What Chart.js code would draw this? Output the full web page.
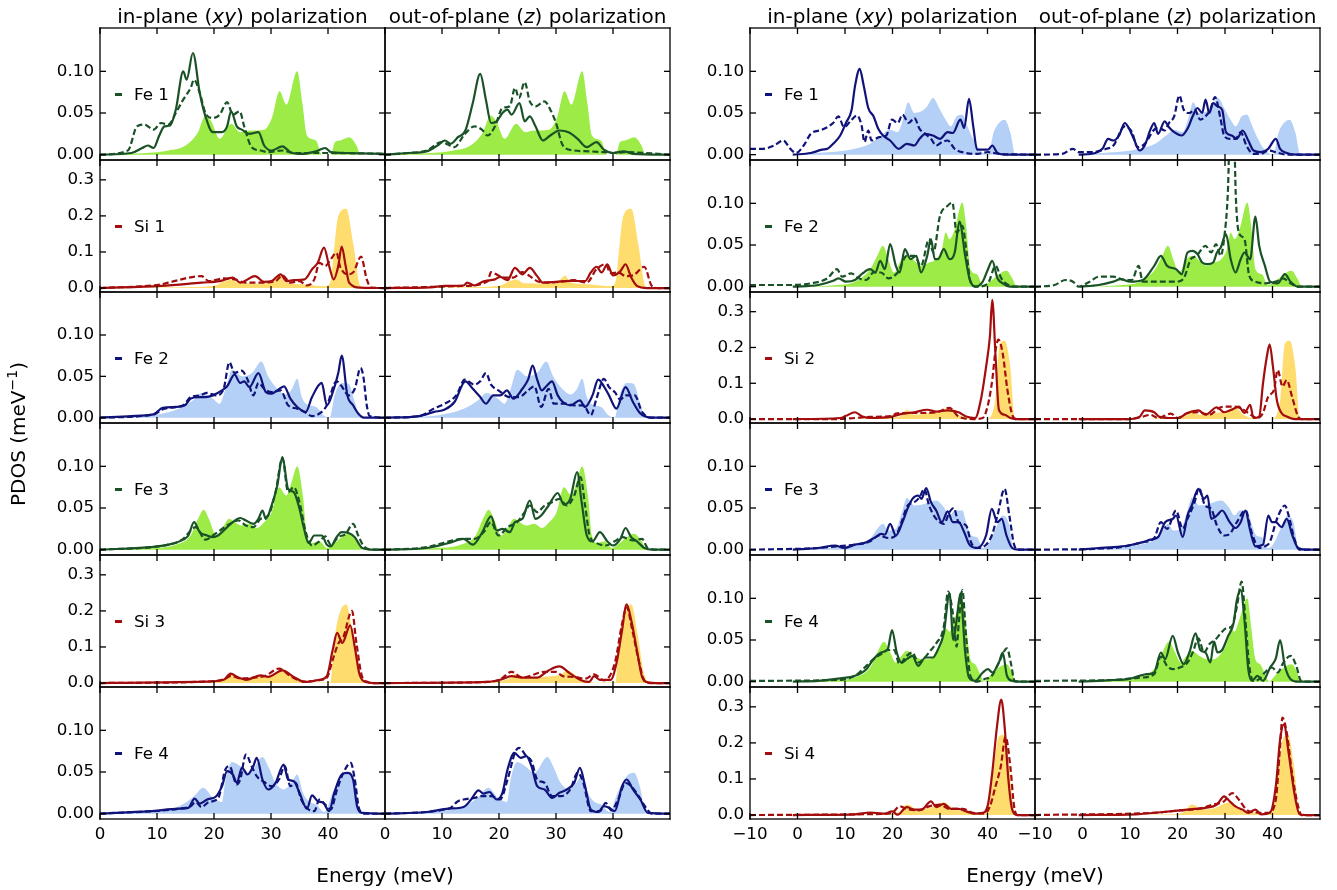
<!DOCTYPE html>
<html>
<head>
<meta charset="utf-8">
<script src="https://cdn.jsdelivr.net/npm/chart.js@4.4.0/dist/chart.umd.min.js"></script>
<style>
  body { margin: 0; background: #fff; }
  #figure { position: relative; width: 1337px; height: 890px; overflow: hidden; font-family: "DejaVu Sans", sans-serif; color: #000; }
  #figure canvas { position: absolute; }
  .txt { position: absolute; white-space: nowrap; }
  .title { font-size: 20px; line-height: 24px; text-align: center; }
  .legend { font-size: 16.7px; line-height: 20px; }
  .dash { position: absolute; width: 7px; height: 3px; }
</style>
</head>
<body>
<div id="figure"></div>
<script>
// --- Axis ticks and ranges ---
const energyTicksLeft = [0, 10, 20, 30, 40];
const energyTicksRight = [-10, 0, 10, 20, 30, 40];
const feTicks = [0, 0.05, 0.10];
const siTicks = [0, 0.1, 0.2, 0.3];
const rowLabels = ['Fe 1', 'Si 1', 'Fe 2', 'Fe 3', 'Si 3', 'Fe 4'];
const rowLabelsRight = ['Fe 1', 'Fe 2', 'Si 2', 'Fe 3', 'Fe 4', 'Si 4'];
const columnTitles = ['in-plane (<i>xy</i>) polarization', 'out-of-plane (<i>z</i>) polarization'];

// --- Left block: [energy (meV), PDOS (1/meV)] ---
const leftFe1Fill = [[0,0],[5,0.001],[10,0.003],[12,0.005],[15,0.011],[17.2,0.027],[18.5,0.047],[19.5,0.04],[21,0.019],[23,0.037],[24.6,0.027],[26.2,0.029],[28.8,0.03],[30.2,0.045],[31.5,0.076],[32.7,0.06],[34.6,0.1],[35.5,0.062],[36.3,0.023],[37.9,0.017],[38.9,0],[40.5,0],[41.2,0.015],[42.1,0.017],[43.7,0.021],[45,0.011],[45.7,0],[50,0]];
const leftFe1XySolid = [[0,0],[5.5,0.002],[7.4,0.008],[8.4,0.011],[9.4,0.008],[10.4,0.023],[11.3,0.034],[12.3,0.035],[13.3,0.054],[14.6,0.1],[15.2,0.09],[16.3,0.122],[17.5,0.074],[18.5,0.046],[19.8,0.027],[21.4,0.027],[22.3,0.034],[23,0.052],[24,0.034],[24.9,0.03],[26.2,0.025],[27.8,0.027],[28.8,0.011],[30.1,0.005],[32,0.01],[33.4,0.003],[35.3,0.001],[37.9,0.004],[39.5,0.008],[40.5,0.003],[43,0.002],[50,0.001]];
const leftFe1XyDashed = [[0,0],[4.9,0.005],[6.5,0.034],[7.8,0.036],[9.4,0.03],[10.7,0.038],[12,0.036],[13.3,0.05],[14.6,0.066],[15.9,0.08],[16.5,0.09],[17.5,0.074],[18.5,0.05],[19.8,0.044],[21,0.048],[22.3,0.063],[23.3,0.048],[24.5,0.052],[25.3,0.034],[26.6,0.009],[28.2,0.005],[29.5,0.003],[32,0.005],[34,0.002],[40,0.002],[50,0.001]];
const leftFe1ZSolid = [[0,0],[4.1,0.002],[7.3,0.004],[9.2,0.011],[10.5,0.017],[11.5,0.013],[12.8,0.021],[14.1,0.029],[15.4,0.062],[16.7,0.097],[17.7,0.066],[18.6,0.038],[19.6,0.04],[20.6,0.05],[21.5,0.054],[22.2,0.048],[23.6,0.062],[24.5,0.04],[25.4,0.046],[26.4,0.034],[27.7,0.017],[29,0.023],[30.6,0.029],[32.2,0.027],[33.8,0.019],[35.4,0.009],[37.1,0.015],[38.4,0.006],[40,0.002],[41.9,0.004],[43.5,0.001],[50,0]];
const leftFe1ZDashed = [[0,0],[4.1,0.002],[7.3,0.005],[9.9,0.015],[12.2,0.009],[13.8,0.023],[15.7,0.034],[17,0.03],[18,0.023],[19.3,0.034],[20.6,0.056],[21.9,0.058],[22.8,0.08],[23.5,0.068],[24.5,0.087],[25.4,0.064],[26.4,0.058],[28,0.064],[29,0.054],[30,0.038],[31.2,0.011],[33.2,0.005],[35.8,0.004],[38.4,0.003],[40.3,0.002],[42,0.003],[50,0]];

const leftSi1Fill = [[0,0],[15,0.002],[20,0.006],[22,0.02],[23,0.024],[24.5,0.013],[28,0.012],[30.5,0.02],[31.6,0.035],[32.5,0.016],[36,0.01],[39.5,0.005],[40.5,0.02],[40.9,0.08],[41.8,0.2],[43.2,0.22],[44.4,0.126],[45.7,0.005],[46.5,0],[50,0]];
const leftSi1XySolid = [[0,0],[10.7,0.006],[17.8,0.015],[21,0.019],[23.3,0.029],[24.6,0.015],[27.2,0.033],[28.8,0.017],[30.1,0.019],[31.7,0.038],[32.7,0.019],[34,0.022],[35.9,0.024],[37.2,0.052],[38.2,0.07],[39.3,0.112],[40.2,0.061],[41,0.024],[41.8,0.061],[42.4,0.115],[43.1,0.061],[43.7,0.015],[45.7,0.001],[50,0]];
const leftSi1XyDashed = [[0,0],[10.7,0.01],[12,0.015],[17.8,0.033],[19.1,0.019],[21.7,0.027],[23.6,0.024],[25.6,0.015],[28.2,0.015],[30.8,0.019],[32,0.035],[33.4,0.015],[35,0.019],[36.3,0.007],[37.6,0.024],[38.5,0.07],[39.5,0.061],[40.5,0.08],[41.5,0.098],[42.1,0.061],[43.4,0.038],[44.4,0.043],[45.8,0.087],[46.8,0.024],[47.6,0.001],[50,0]];
const leftSi1ZSolid = [[0,0],[8,0.002],[10.5,0.006],[13.8,0.007],[14.4,0.015],[15.7,0.007],[17.3,0.019],[19.3,0.024],[20.2,0.031],[21.5,0.022],[22.8,0.056],[24.1,0.038],[25.4,0.056],[26.7,0.033],[27.7,0.015],[30,0.017],[32.5,0.02],[35.1,0.019],[36.1,0.043],[37.1,0.059],[38,0.043],[39,0.066],[40,0.035],[41.3,0.047],[42.2,0.066],[43.2,0.029],[44.2,0.006],[46,0],[50,0]];
const leftSi1ZDashed = [[0,0],[13.8,0.006],[18,0.019],[18.6,0.044],[19.9,0.035],[20.9,0.029],[22.5,0.029],[24.1,0.044],[25.4,0.033],[26.7,0.019],[28.7,0.015],[30.6,0.017],[33.2,0.022],[35.4,0.015],[37.1,0.052],[38.7,0.066],[39.6,0.041],[41,0.043],[42.2,0.033],[43.5,0.035],[45.5,0.059],[46.8,0.006],[48,0],[50,0]];

const leftFe2Fill = [[0,0],[5,0.001],[9.4,0.003],[13.9,0.011],[16.5,0.022],[17.8,0.03],[19.8,0.023],[21,0.017],[22,0.034],[23.2,0.058],[24.9,0.05],[26.8,0.055],[28.3,0.068],[29.5,0.05],[30.8,0.037],[32.6,0.028],[33.7,0.035],[34.6,0.047],[35.4,0.025],[36.6,0.015],[37.9,0.013],[39.2,0.003],[40.3,0],[41.2,0.028],[42.4,0.042],[43.6,0.041],[44.7,0.019],[45.7,0],[50,0]];
const leftFe2XySolid = [[0,0],[5.5,0.002],[9.4,0.004],[11,0.012],[13.3,0.013],[14.9,0.015],[15.9,0.023],[17.2,0.025],[18.5,0.025],[19.8,0.027],[21.4,0.033],[22.3,0.038],[23.6,0.052],[24.6,0.042],[25.3,0.044],[26.2,0.037],[27.8,0.054],[29.1,0.031],[30.1,0.029],[31.1,0.033],[32.3,0.038],[33.4,0.023],[34.6,0.013],[36.1,0.007],[37.2,0.025],[38.9,0.042],[39.8,0.015],[40.8,0.03],[41.8,0.054],[42.4,0.075],[43.4,0.027],[44.4,0.015],[45.3,0.005],[46.3,0],[50,0]];
const leftFe2XyDashed = [[0,0],[9.4,0.004],[11.3,0.011],[14.6,0.015],[15.9,0.025],[17.5,0.027],[18.8,0.03],[20.4,0.027],[21.7,0.035],[22.7,0.067],[23.6,0.054],[24.8,0.057],[25.9,0.046],[26.9,0.027],[27.8,0.042],[28.8,0.035],[30.1,0.031],[31.7,0.033],[33,0.015],[34.6,0.011],[35.9,0.007],[37.2,0.002],[38.9,0.007],[39.8,0.015],[41.5,0.044],[42.4,0.038],[43.6,0.027],[44.7,0.035],[45.7,0.06],[46.2,0.05],[46.8,0.015],[47.3,0.002],[50,0]];
const leftFe2ZSolid = [[0,0],[6,0.002],[8.6,0.007],[10.5,0.01],[12.2,0.019],[14.1,0.044],[15.4,0.035],[16.7,0.025],[17.7,0.017],[19,0.027],[20.2,0.027],[21.4,0.033],[22.5,0.023],[24.1,0.035],[25.1,0.046],[25.9,0.063],[26.7,0.046],[27.5,0.033],[28.3,0.038],[29.3,0.044],[30.3,0.027],[31.2,0.019],[32.5,0.015],[34.2,0.021],[35.1,0.013],[36.4,0.027],[37.4,0.046],[38.4,0.038],[39.3,0.027],[40.6,0.011],[42.2,0.037],[43.5,0.019],[44.8,0.005],[46.8,0],[50,0]];
const leftFe2ZDashed = [[0,0],[6,0.002],[8.6,0.011],[10.5,0.017],[12.5,0.027],[14,0.046],[15.7,0.04],[16.7,0.044],[17.7,0.054],[18.6,0.04],[19.9,0.033],[21.9,0.025],[23.5,0.025],[25.1,0.033],[26.2,0.038],[27.4,0.013],[28.7,0.035],[29.6,0.017],[31.6,0.017],[33.2,0.015],[34.8,0.015],[36.1,0.003],[37.1,0.023],[38.4,0.047],[39.3,0.037],[40.3,0.031],[41.3,0.022],[42.2,0.027],[43.8,0.027],[45.1,0.007],[46.8,0],[50,0]];

const leftFe3Fill = [[0,0],[8.7,0.002],[13.3,0.006],[15.9,0.017],[17.2,0.037],[18.2,0.048],[19.1,0.037],[20.4,0.017],[21.4,0.025],[22.7,0.037],[23.6,0.033],[24.9,0.029],[26.2,0.031],[27.5,0.026],[28.8,0.033],[30.1,0.045],[31.4,0.075],[32.7,0.065],[33.7,0.083],[34.6,0.1],[35.6,0.065],[36.3,0.017],[37.2,0.008],[38.5,0.01],[39.8,0.002],[40.8,0.006],[42.4,0.015],[43.7,0.019],[45,0.01],[46,0],[50,0]];
const leftFe3XySolid = [[0,0],[8.7,0.003],[12,0.006],[14.6,0.012],[15.5,0.017],[16.5,0.033],[17.5,0.021],[18.8,0.017],[19.8,0.015],[20.7,0.017],[22,0.025],[23.3,0.033],[24.6,0.038],[25.6,0.035],[26.9,0.031],[27.8,0.037],[28.5,0.047],[29.1,0.037],[30.1,0.053],[31.1,0.077],[32,0.111],[33,0.073],[34,0.069],[35,0.049],[35.8,0.025],[36.6,0.008],[37.6,0.017],[38.9,0.017],[39.8,0.006],[40.5,0.004],[41.5,0.015],[42.4,0.021],[43.6,0.02],[44.7,0.015],[46,0.002],[48,0],[50,0]];
const leftFe3XyDashed = [[0,0],[12,0.006],[14.6,0.013],[16.2,0.025],[16.8,0.027],[18.5,0.012],[19.8,0.017],[22.3,0.029],[24.3,0.035],[25.6,0.029],[26.9,0.027],[28.2,0.037],[29.5,0.041],[30.8,0.069],[32,0.11],[33,0.069],[34,0.075],[35,0.057],[36.1,0.021],[37.2,0.005],[38.5,0.01],[39.5,0.016],[40.5,0.006],[41.8,0.015],[43.1,0.019],[44.4,0.031],[45.3,0.017],[46.3,0.004],[48,0],[50,0]];
const leftFe3ZSolid = [[0,0],[7.3,0.002],[11.2,0.008],[13.8,0.013],[15.4,0.006],[17,0.02],[18.6,0.04],[19.6,0.023],[20.6,0.025],[21.9,0.021],[22.8,0.033],[24.1,0.037],[25.4,0.059],[26.4,0.037],[27.4,0.041],[28.7,0.053],[30.3,0.068],[31.4,0.054],[32.5,0.061],[33.7,0.093],[34.5,0.057],[35.4,0.017],[36.4,0.01],[37.7,0.021],[39,0.01],[40,0.005],[41.3,0.013],[42.2,0.026],[43.2,0.015],[44.2,0.01],[45.5,0.002],[47,0],[50,0]];
const leftFe3ZDashed = [[0,0],[7.3,0.003],[11.2,0.01],[13.8,0.013],[15.7,0.013],[17.3,0.021],[18.6,0.033],[19.9,0.017],[21.5,0.027],[23.2,0.033],[24.5,0.045],[25.4,0.053],[26.7,0.045],[28,0.053],[29.3,0.057],[30.6,0.061],[31.9,0.053],[33.2,0.065],[34.3,0.087],[35.1,0.053],[35.9,0.017],[37.1,0.008],[38.7,0.005],[40.3,0.01],[41.6,0.015],[43.5,0.011],[45.1,0.013],[46.1,0.002],[48,0],[50,0]];

const leftSi3Fill = [[0,0],[18,0.002],[21.7,0.012],[23,0.026],[24.9,0.012],[27.5,0.017],[30.8,0.024],[32,0.035],[34,0.015],[35.9,0.003],[38,0.001],[40.4,0.002],[41.1,0.118],[42.1,0.197],[43.2,0.218],[44.4,0.128],[45.3,0.035],[46.3,0.002],[47,0],[50,0]];
const leftSi3XySolid = [[0,0],[18.5,0.004],[21.7,0.009],[22.9,0.026],[24.3,0.015],[25.6,0.009],[28.2,0.021],[29.5,0.017],[32,0.035],[34,0.017],[35.9,0.003],[38.5,0.009],[39.8,0.019],[40.8,0.09],[41.6,0.139],[42.5,0.111],[43.9,0.16],[44.7,0.1],[45.5,0.026],[46.6,0.003],[48,0],[50,0]];
const leftSi3XyDashed = [[0,0],[18.5,0.004],[21.7,0.01],[23,0.02],[24.5,0.013],[27,0.015],[29,0.02],[31.4,0.04],[33.5,0.018],[35.9,0.004],[38.5,0.008],[39.8,0.015],[40.8,0.063],[41.8,0.109],[42.7,0.128],[44.2,0.2],[45,0.109],[46,0.017],[47,0.003],[48,0],[50,0]];
const leftSi3ZSolid = [[0,0],[18,0.003],[20.2,0.009],[22.2,0.019],[24.1,0.015],[26.7,0.015],[28.7,0.035],[30.6,0.046],[32.5,0.026],[34.5,0.007],[35.8,0.003],[36.7,0.019],[37.7,0.009],[39.6,0.009],[40.6,0.054],[41.5,0.137],[42.4,0.218],[43.2,0.174],[44.2,0.091],[45.1,0.017],[46.1,0.002],[48,0],[50,0]];
const leftSi3ZDashed = [[0,0],[18,0.003],[20.2,0.01],[22.2,0.031],[24.1,0.015],[28,0.031],[30,0.031],[31.2,0.019],[33.2,0.017],[35.1,0.012],[36.7,0.024],[38.4,0.007],[40.3,0.054],[41.6,0.165],[42.4,0.21],[43.4,0.146],[44.5,0.063],[45.5,0.007],[46.5,0],[50,0]];

const leftFe4Fill = [[0,0],[8.7,0.003],[13.9,0.009],[16.5,0.021],[18.1,0.031],[19.8,0.019],[21.4,0.014],[22,0.04],[23.2,0.062],[24.6,0.057],[26.2,0.049],[28.5,0.068],[29.5,0.057],[30.8,0.037],[32.2,0.029],[33.6,0.037],[34.6,0.047],[35.6,0.025],[36.6,0.015],[37.9,0.011],[39.4,0.002],[40.8,0.025],[42.4,0.045],[43.7,0.049],[44.7,0.033],[45.8,0],[50,0]];
const leftFe4XySolid = [[0,0],[8.7,0.003],[13.9,0.006],[15.5,0.007],[16.6,0.018],[17.5,0.012],[18.8,0.017],[20.4,0.021],[21.4,0.033],[22.3,0.051],[23.3,0.047],[24,0.037],[24.9,0.055],[25.9,0.047],[26.9,0.057],[27.5,0.067],[28.5,0.041],[29.5,0.029],[30.8,0.037],[32.2,0.059],[33,0.041],[34,0.039],[35,0.025],[36.3,0.006],[37.2,0.022],[38.2,0.015],[39.2,0.013],[40.2,0.003],[41.1,0.025],[42.4,0.047],[43.4,0.049],[44.4,0.041],[45.1,0.009],[46,0.001],[50,0]];
const leftFe4XyDashed = [[0,0],[13.9,0.006],[15.9,0.009],[16.8,0.014],[17.8,0.008],[19.1,0.014],[20.7,0.018],[22,0.053],[22.7,0.057],[24,0.035],[24.6,0.041],[25.6,0.071],[26.6,0.057],[27.5,0.045],[28.8,0.038],[30.1,0.033],[31.4,0.041],[32.4,0.057],[33.4,0.033],[34.3,0.037],[35.3,0.017],[36.6,0.005],[37.6,0.003],[38.5,0.017],[39.5,0.011],[40.5,0.005],[41.5,0.027],[42.7,0.049],[44,0.061],[44.7,0.041],[45.5,0.005],[46.5,0],[50,0]];
const leftFe4ZSolid = [[0,0],[7.3,0.002],[11.2,0.006],[13.8,0.008],[15.1,0.017],[16.4,0.028],[17.3,0.024],[18.3,0.026],[19.6,0.017],[20.6,0.025],[21.5,0.053],[22.7,0.073],[23.8,0.067],[24.8,0.069],[25.7,0.057],[26.7,0.033],[28,0.029],[29.3,0.019],[30.6,0.025],[31.9,0.029],[33.2,0.037],[34.2,0.055],[35.1,0.033],[36.1,0.005],[37.4,0.002],[38.4,0.009],[39.3,0.007],[40.3,0.003],[41.6,0.033],[42.4,0.041],[43.5,0.029],[44.8,0.017],[46.1,0.001],[50,0]];
const leftFe4ZDashed = [[0,0],[11.2,0.006],[12.8,0.015],[13.8,0.017],[15.7,0.019],[17,0.021],[18.6,0.021],[20.2,0.017],[21.5,0.041],[22.8,0.073],[23.5,0.079],[24.8,0.069],[25.7,0.063],[26.7,0.041],[28,0.037],[29.3,0.021],[30.9,0.021],[32.5,0.029],[33.8,0.049],[34.8,0.037],[36.1,0.003],[37.7,0.003],[38.7,0.013],[39.7,0.004],[40.9,0.017],[42.2,0.037],[43.2,0.033],[44.5,0.021],[45.8,0.007],[46.8,0],[50,0]];

// --- Right block ---
const rightFe1Fill = [[0,0],[4.4,0.002],[9,0.004],[12.1,0.007],[15.3,0.013],[17.6,0.023],[19.5,0.03],[21.1,0.027],[22.1,0.04],[23.3,0.063],[24.6,0.05],[26.1,0.052],[27.3,0.058],[28.5,0.068],[30,0.054],[31.2,0.042],[32.3,0.034],[33.5,0.046],[34.7,0.048],[35.5,0.038],[36.6,0.023],[38.2,0.007],[40.1,0],[41.3,0.027],[42.4,0.038],[43.6,0.042],[44.8,0.027],[45.9,0],[50,0]];
const rightFe1XySolid = [[-1,0],[2.8,0.002],[5.2,0.006],[6.3,0.007],[7.5,0.013],[9,0.023],[10.2,0.038],[11.4,0.054],[12.1,0.082],[13.1,0.103],[13.9,0.084],[14.9,0.056],[16,0.046],[17,0.031],[18,0.023],[19.5,0.017],[21.3,0.007],[23,0.013],[24.6,0.011],[25.7,0.019],[26.9,0.025],[28.5,0.023],[30,0.019],[31.6,0.027],[32.7,0.026],[34.3,0.042],[35.1,0.032],[36.1,0.067],[37,0.034],[37.8,0.006],[40.1,0.006],[41,0.011],[42.1,0.002],[44,0],[50,0]];
const rightFe1XyDashed = [[-10,0.007],[-7.3,0.007],[-4.9,0.011],[-3,0.017],[-1.5,0.007],[-0.3,0.002],[1.3,0.011],[2.8,0.025],[5.2,0.03],[7.5,0.038],[8.6,0.046],[9.8,0.033],[11.4,0.042],[12.5,0.047],[13.5,0.035],[14.1,0.015],[14.9,0.029],[15.6,0.017],[17.2,0.021],[18.7,0.023],[19.9,0.042],[21.1,0.038],[22.1,0.048],[23.4,0.038],[24.6,0.044],[25.7,0.031],[26.9,0.025],[28.1,0.019],[29.2,0.011],[30.4,0.015],[31.6,0.017],[33.1,0.007],[35.5,0.002],[37.8,0.001],[40.1,0.003],[42.4,0.001],[50,0]];
const rightFe1ZSolid = [[-0.8,0],[2.7,0.002],[4.2,0.007],[5.4,0.019],[6.5,0.017],[7.7,0.023],[8.9,0.038],[10,0.029],[10.8,0.019],[12,0.005],[13.1,0.011],[14.3,0.03],[15.1,0.038],[15.9,0.025],[17.3,0.04],[18.2,0.033],[19.3,0.027],[20.9,0.023],[22.1,0.031],[23.2,0.046],[24.2,0.056],[25.2,0.05],[25.9,0.066],[26.7,0.05],[27.5,0.062],[28.4,0.058],[29.4,0.054],[30.2,0.027],[31.4,0.023],[32.5,0.019],[33.7,0.029],[34.9,0.017],[36,0.005],[37.6,0.003],[39.1,0.007],[40.7,0.019],[41.6,0.007],[43,0.002],[45,0],[50,0]];
const rightFe1ZDashed = [[-10,0],[-4.3,0.001],[-2,0.007],[-0.8,0.003],[1.9,0.003],[5,0.007],[6.5,0.011],[8.9,0.034],[10.4,0.027],[11.6,0.009],[13.1,0.013],[15.1,0.03],[16.2,0.032],[17.3,0.029],[18.2,0.038],[19.3,0.046],[20.4,0.071],[21.3,0.054],[22.5,0.05],[23.6,0.054],[24.8,0.042],[25.9,0.046],[26.9,0.054],[27.9,0.069],[29.1,0.042],[29.8,0.023],[31,0.019],[32.2,0.019],[33.3,0.027],[34.5,0.011],[36,0.001],[37.6,0.001],[39.1,0.005],[40.7,0.003],[43,0],[50,0]];

const rightFe2Fill = [[0,0],[8.3,0.002],[12.1,0.006],[15.3,0.021],[16.8,0.037],[18,0.049],[19.1,0.033],[20.3,0.017],[21.9,0.033],[23.2,0.037],[24.6,0.031],[26.1,0.025],[27.7,0.029],[29.2,0.033],[30.4,0.045],[31.2,0.065],[32,0.057],[33.1,0.069],[34.7,0.101],[35.5,0.073],[36.4,0.021],[37.8,0.015],[39,0.002],[40.5,0.006],[42.4,0.015],[44,0.019],[45.2,0.01],[46.2,0],[50,0]];
const rightFe2XySolid = [[-1,0],[4.4,0.002],[7.5,0.007],[8.6,0.01],[10.2,0.006],[12.1,0.008],[13.7,0.016],[15.3,0.021],[16.4,0.017],[17.4,0.031],[18.4,0.021],[19.5,0.051],[20.7,0.025],[21.5,0.017],[22.6,0.045],[23.8,0.033],[25,0.037],[26,0.017],[27.3,0.037],[28.1,0.057],[28.9,0.033],[29.6,0.033],[30.8,0.045],[32,0.033],[33.1,0.041],[34.1,0.078],[35.3,0.037],[36.2,0.01],[37.4,0],[39,0.006],[40.1,0.021],[41,0.031],[42.1,0.01],[43.2,0.004],[44.8,0],[50,0]];
const rightFe2XyDashed = [[-10,0.002],[-1.8,0.002],[2.8,0.004],[6.3,0.01],[8.3,0.021],[9.4,0.012],[11.3,0.016],[12.9,0.01],[14.5,0.008],[16,0.017],[17.6,0.017],[19.1,0.01],[21.1,0.017],[23,0.037],[24.6,0.037],[26,0.025],[27.7,0.057],[28.6,0.041],[30,0.085],[31.6,0.097],[32.6,0.101],[33.5,0.065],[34.7,0.073],[35.6,0.041],[36.4,0.006],[37.8,0],[40.1,0.004],[41.7,0.025],[42.9,0.01],[44.4,0.002],[46,0],[50,0]];
const rightFe2ZSolid = [[-0.5,0],[3.4,0.002],[6.5,0.006],[8.1,0.009],[10,0.006],[12.7,0.008],[15.1,0.025],[16.5,0.037],[17.8,0.025],[19.7,0.021],[20.9,0.015],[22.1,0.041],[23.2,0.043],[24.2,0.039],[25.2,0.029],[26.3,0.027],[27.5,0.029],[28.3,0.041],[29.1,0.047],[30.2,0.063],[31.2,0.033],[32.2,0.017],[33.3,0.033],[34.1,0.041],[35.3,0.033],[36.4,0.084],[37.2,0.049],[38.4,0.025],[39.5,0.006],[41.1,0.004],[42.6,0.015],[43.8,0.006],[45.4,0],[50,0]];
const rightFe2ZDashed = [[-10,0],[-5.9,0.002],[-3.6,0.008],[-2,0.006],[-0.8,0],[1.5,0.006],[3.4,0.012],[6.5,0.012],[8.9,0.008],[10.4,0.008],[11.8,0.025],[12.7,0.006],[14.3,0.006],[17.4,0.006],[19.7,0.006],[21.3,0.01],[22.8,0.033],[24,0.037],[25.9,0.049],[27.1,0.041],[28.1,0.051],[29.1,0.037],[29.8,0.057],[30.6,0.113],[31.1,0.2],[31.8,0.2],[32.3,0.105],[32.9,0.065],[34.1,0.057],[35.1,0.013],[36.4,0.006],[38.4,0.004],[40.7,0.006],[42.2,0.01],[43.8,0.004],[45.4,0],[50,0]];

const rightSi2Fill = [[0,0],[9,0],[19,0.004],[21.5,0.007],[23,0.026],[24.6,0.012],[27.7,0.017],[30,0.021],[32,0.033],[33.9,0.012],[35.5,0.003],[40.1,0],[41.3,0.03],[41.7,0.063],[42.6,0.211],[43.6,0.219],[44.8,0.146],[45.7,0.003],[46.5,0],[50,0]];
const rightSi2XySolid = [[-1,0],[9,0.003],[10.2,0.009],[12.1,0.019],[13.7,0.007],[15.3,0.003],[19.9,0.007],[22.2,0.015],[24.6,0.019],[27.3,0.026],[29.2,0.021],[31.6,0.024],[33.9,0.019],[35.5,0.007],[37.4,0.003],[38.6,0.054],[39.7,0.146],[40.5,0.23],[41,0.333],[41.7,0.174],[42.4,0.026],[43.6,0.012],[44.8,0.003],[46,0],[50,0]];
const rightSi2XyDashed = [[-10,0],[8.3,0],[12.1,0.003],[15.3,0.006],[19.9,0.009],[20.7,0.015],[23,0.017],[26.1,0.017],[29.2,0.019],[32,0.031],[33.9,0.007],[37,0],[39,0.003],[40.1,0.04],[41,0.109],[41.7,0.193],[42.3,0.222],[43.2,0.183],[44.2,0.081],[45.2,0.012],[46,0],[50,0]];
const rightSi2ZSolid = [[-0.8,0],[9.6,0],[12,0.006],[13.1,0.024],[15.1,0.019],[16.2,0.006],[18.2,0.003],[20.1,0.003],[22.1,0.017],[24.4,0.024],[25.9,0.012],[28.3,0.033],[29.8,0.019],[31.4,0.026],[32.9,0.035],[34.1,0.017],[35.3,0.04],[36,0.003],[37.2,0.007],[38,0.1],[38.8,0.174],[39.4,0.209],[40.1,0.146],[40.9,0.054],[41.9,0.017],[43,0.007],[44.6,0],[50,0]];
const rightSi2ZDashed = [[-10,0],[9.6,0],[12.7,0.007],[14.3,0.012],[15.9,0.003],[18.6,0.015],[20.1,0.003],[22.1,0.017],[24.4,0.019],[26.7,0.012],[29.1,0.033],[31.4,0.035],[33.3,0.031],[34.9,0.017],[36.8,0.003],[38,0.017],[39.1,0.063],[40.3,0.081],[41.1,0.137],[42.1,0.091],[43,0.109],[44.1,0.063],[45.4,0.007],[46.1,0],[50,0]];

const rightFe3Fill = [[0,0],[6.7,0.002],[12.1,0.006],[15.3,0.013],[16.8,0.025],[18,0.031],[19.1,0.023],[20.7,0.025],[22.1,0.047],[23,0.062],[24.6,0.053],[26.1,0.054],[27.7,0.057],[29.2,0.059],[30.8,0.051],[32,0.041],[33.1,0.047],[34.7,0.047],[35.5,0.033],[36.6,0.017],[37.8,0.015],[39,0.002],[40.1,0.006],[41.7,0.025],[43.2,0.041],[44.4,0.033],[45.6,0],[50,0]];
const rightFe3XySolid = [[-1,0],[4.4,0.002],[7.9,0.005],[9.8,0.002],[12.1,0.006],[14.5,0.009],[16.4,0.015],[17.6,0.019],[18.4,0.018],[19.5,0.031],[20.7,0.017],[22.1,0.033],[23,0.047],[24.2,0.061],[25.4,0.065],[26.1,0.061],[27.1,0.074],[28.1,0.057],[29.2,0.047],[30.4,0.033],[31.6,0.046],[32.7,0.033],[33.9,0.033],[35.1,0.021],[36.2,0.006],[37.8,0.002],[39.7,0.017],[40.9,0.049],[42.1,0.033],[43,0.037],[44,0.017],[45.2,0.002],[46.5,0],[50,0]];
const rightFe3XyDashed = [[-10,0],[4.4,0.002],[8.3,0.004],[12.1,0.006],[15.3,0.01],[17.2,0.017],[19.1,0.014],[20.7,0.017],[21.9,0.033],[23.2,0.053],[24.6,0.057],[25.7,0.063],[26.7,0.073],[27.7,0.053],[29.2,0.037],[30.8,0.031],[32,0.045],[32.9,0.05],[33.9,0.033],[35.5,0.029],[36.6,0.008],[37.8,0.002],[39.7,0.006],[40.9,0.017],[42.1,0.041],[43.6,0.073],[44.6,0.041],[45.6,0.006],[46.5,0],[50,0]];
const rightFe3ZSolid = [[-0.8,0],[3.4,0.002],[6.5,0.003],[9.6,0.005],[12.7,0.009],[14.3,0.012],[15.9,0.015],[17.4,0.033],[19,0.037],[19.7,0.041],[21.1,0.015],[22.1,0.041],[23,0.053],[24.4,0.073],[25.6,0.061],[26.3,0.065],[27.1,0.037],[28.3,0.041],[29.4,0.047],[31,0.033],[32.2,0.026],[33.3,0.033],[34.3,0.047],[35.3,0.023],[36.4,0.004],[38,0.006],[39.1,0.041],[39.9,0.033],[40.7,0.033],[41.9,0.027],[43,0.037],[44.2,0.017],[45.4,0.002],[47,0],[50,0]];
const rightFe3ZDashed = [[-10,0],[6.5,0.002],[12.7,0.009],[15.1,0.014],[16.5,0.033],[17.8,0.025],[19.7,0.047],[21.1,0.025],[22.1,0.037],[23.6,0.057],[24.5,0.074],[25.8,0.053],[27.1,0.049],[28.3,0.029],[29.8,0.017],[31,0.019],[32.5,0.033],[34.3,0.047],[35.7,0.019],[37.2,0.002],[38.4,0.004],[39.5,0.01],[40.7,0.033],[41.9,0.049],[42.6,0.053],[43.4,0.041],[44.6,0.013],[45.7,0],[50,0]];

const rightFe4Fill = [[0,0],[8.3,0.002],[12.1,0.005],[15.3,0.017],[16.8,0.035],[18.2,0.048],[19.5,0.035],[20.7,0.023],[21.9,0.031],[23,0.037],[24.6,0.031],[26.1,0.027],[27.7,0.027],[29.2,0.034],[30.4,0.046],[31.2,0.064],[32,0.06],[33,0.074],[34.7,0.1],[35.5,0.066],[36.4,0.027],[37.4,0.021],[38.6,0.007],[39.3,0],[40.5,0.007],[42.4,0.017],[44,0.021],[45.2,0.011],[45.9,0],[50,0]];
const rightFe4XySolid = [[-1,0],[4.4,0.001],[9,0.004],[12.1,0.007],[14.5,0.015],[16,0.027],[17.6,0.035],[19,0.039],[19.9,0.062],[20.9,0.035],[21.9,0.023],[23,0.027],[24.2,0.031],[25.4,0.019],[26.9,0.029],[28.5,0.029],[29.6,0.039],[30.8,0.058],[32,0.106],[32.8,0.05],[33.5,0.074],[34.3,0.106],[35.3,0.035],[36.1,0.005],[37.4,0.001],[39,0.011],[40.1,0.015],[41,0.011],[42.4,0.023],[43.2,0.035],[44.1,0.007],[45.2,0.001],[47,0],[50,0]];
const rightFe4XyDashed = [[-10,0.001],[8.3,0.002],[12.1,0.007],[14.5,0.019],[16,0.027],[17.6,0.033],[19.1,0.038],[20.3,0.038],[21.5,0.021],[23,0.031],[24.2,0.035],[25.4,0.023],[26.5,0.027],[28.1,0.038],[29.2,0.046],[30.8,0.066],[31.7,0.108],[32.8,0.078],[33.5,0.042],[34,0.074],[34.7,0.11],[35.5,0.054],[36.4,0.007],[37.8,0],[39.3,0.003],[40.9,0.007],[42.4,0.023],[44.1,0.04],[44.9,0.023],[45.7,0.001],[47,0],[50,0]];
const rightFe4ZSolid = [[-0.8,0],[3.4,0.001],[6.5,0.002],[9.6,0.003],[12,0.007],[13.5,0.009],[15.1,0.011],[16.5,0.035],[17.4,0.027],[19,0.055],[20.1,0.035],[21.3,0.021],[22.5,0.035],[23.8,0.058],[24.8,0.038],[25.9,0.035],[26.9,0.023],[27.7,0.048],[28.4,0.035],[29.4,0.038],[30.6,0.054],[31.8,0.07],[32.5,0.098],[33.3,0.11],[34.1,0.074],[34.9,0.015],[35.7,0.001],[36.8,0.007],[38,0.001],[39.5,0.017],[40.7,0.028],[41.6,0.05],[42.6,0.019],[43.8,0.003],[45.4,0],[50,0]];
const rightFe4ZDashed = [[-10,0.001],[6.5,0.002],[10.4,0.004],[12.7,0.005],[15.1,0.009],[16.5,0.03],[17.8,0.019],[19,0.015],[20.5,0.017],[22.1,0.023],[23.2,0.035],[24.4,0.052],[25.6,0.035],[26.7,0.045],[27.9,0.05],[29.1,0.058],[30.2,0.064],[31.4,0.066],[32.5,0.09],[33.5,0.12],[34.3,0.074],[35.1,0.019],[36,0.001],[37.2,0.003],[38.4,0.011],[39.9,0.017],[41.1,0.011],[42.3,0.023],[43.8,0.031],[45,0.019],[46,0.001],[47,0],[50,0]];

const rightSi4Fill = [[0,0],[19,0.002],[21.5,0.01],[23,0.029],[25.4,0.015],[27.7,0.019],[30.8,0.035],[33.1,0.015],[35.5,0.01],[38.6,0.001],[40.1,0.015],[41.3,0.126],[42.3,0.215],[43.3,0.222],[44.5,0.14],[45.7,0.006],[46.5,0],[50,0]];
const rightSi4XySolid = [[-1,0],[12.1,0.002],[15.3,0.007],[18.4,0.004],[19.9,0.01],[21.1,0.001],[23,0.022],[24.6,0.015],[26.1,0.015],[28.1,0.038],[29.2,0.022],[30.8,0.031],[32.3,0.017],[33.9,0.017],[35.5,0.01],[37.4,0.004],[39,0.006],[40.1,0.029],[41,0.117],[42,0.246],[42.9,0.32],[43.6,0.246],[44.4,0.098],[45.2,0.015],[46.3,0],[50,0]];
const rightSi4XyDashed = [[-10,0],[18,0.003],[19.9,0.006],[21.5,0.024],[23,0.017],[25.4,0.013],[27.7,0.024],[30,0.029],[32,0.017],[34.7,0.017],[37,0.006],[39.3,0.004],[40.5,0.024],[41.7,0.08],[42.8,0.135],[43.8,0.217],[44.8,0.135],[45.6,0.024],[46.3,0],[50,0]];
const rightSi4ZSolid = [[-0.8,0],[11.2,0.002],[15.9,0.007],[20.5,0.013],[23.6,0.017],[25.9,0.02],[28.3,0.029],[29.8,0.052],[31,0.038],[32.2,0.024],[33.7,0.015],[34.9,0.006],[36.4,0.015],[37.6,0.002],[39.5,0.007],[40.7,0.08],[41.6,0.209],[42.4,0.251],[43.4,0.172],[44.6,0.061],[45.7,0.002],[47,0],[50,0]];
const rightSi4ZDashed = [[-10,0],[15.9,0.007],[20.5,0.013],[24.4,0.017],[27.5,0.029],[29.8,0.038],[31.5,0.061],[32.9,0.043],[34.5,0.015],[36.4,0.007],[39.1,0.006],[40.7,0.043],[41.5,0.172],[42.1,0.27],[43,0.228],[44.1,0.117],[45.4,0.024],[46.1,0],[50,0]];

// --- Styling & layout ---
const COLORS = {
  green: { line: '#1a5227', fill: '#9ceb47' },
  blue: { line: '#10137a', fill: '#b4d0f6' },
  red: { line: '#a30d0d', fill: '#fedd6e' }
};
const FONT = '"DejaVu Sans", sans-serif';
const PANEL_W = 285, ROW_H = 131.8, TOP = 28;
const GROUP_LEFT = [100, 750];
const MARGIN = 34, Y_AXIS_W = 64, X_AXIS_H = 34;
const RANGE = { fe: [-0.0064, 0.152], si: [-0.011, 0.355] };
const TICKS = { fe: feTicks, si: siTicks };

const blocks = [
  {
    xRange: [0, 50], xTicks: energyTicksLeft, rows: [
      { label: rowLabels[0], kind: 'fe', color: 'green', fill: leftFe1Fill, xy: [leftFe1XySolid, leftFe1XyDashed], z: [leftFe1ZSolid, leftFe1ZDashed] },
      { label: rowLabels[1], kind: 'si', color: 'red', fill: leftSi1Fill, xy: [leftSi1XySolid, leftSi1XyDashed], z: [leftSi1ZSolid, leftSi1ZDashed] },
      { label: rowLabels[2], kind: 'fe', color: 'blue', fill: leftFe2Fill, xy: [leftFe2XySolid, leftFe2XyDashed], z: [leftFe2ZSolid, leftFe2ZDashed] },
      { label: rowLabels[3], kind: 'fe', color: 'green', fill: leftFe3Fill, xy: [leftFe3XySolid, leftFe3XyDashed], z: [leftFe3ZSolid, leftFe3ZDashed] },
      { label: rowLabels[4], kind: 'si', color: 'red', fill: leftSi3Fill, xy: [leftSi3XySolid, leftSi3XyDashed], z: [leftSi3ZSolid, leftSi3ZDashed] },
      { label: rowLabels[5], kind: 'fe', color: 'blue', fill: leftFe4Fill, xy: [leftFe4XySolid, leftFe4XyDashed], z: [leftFe4ZSolid, leftFe4ZDashed] }
    ]
  },
  {
    xRange: [-10, 50], xTicks: energyTicksRight, rows: [
      { label: rowLabelsRight[0], kind: 'fe', color: 'blue', fill: rightFe1Fill, xy: [rightFe1XySolid, rightFe1XyDashed], z: [rightFe1ZSolid, rightFe1ZDashed] },
      { label: rowLabelsRight[1], kind: 'fe', color: 'green', fill: rightFe2Fill, xy: [rightFe2XySolid, rightFe2XyDashed], z: [rightFe2ZSolid, rightFe2ZDashed] },
      { label: rowLabelsRight[2], kind: 'si', color: 'red', fill: rightSi2Fill, xy: [rightSi2XySolid, rightSi2XyDashed], z: [rightSi2ZSolid, rightSi2ZDashed] },
      { label: rowLabelsRight[3], kind: 'fe', color: 'blue', fill: rightFe3Fill, xy: [rightFe3XySolid, rightFe3XyDashed], z: [rightFe3ZSolid, rightFe3ZDashed] },
      { label: rowLabelsRight[4], kind: 'fe', color: 'green', fill: rightFe4Fill, xy: [rightFe4XySolid, rightFe4XyDashed], z: [rightFe4ZSolid, rightFe4ZDashed] },
      { label: rowLabelsRight[5], kind: 'si', color: 'red', fill: rightSi4Fill, xy: [rightSi4XySolid, rightSi4XyDashed], z: [rightSi4ZSolid, rightSi4ZDashed] }
    ]
  }
];

Chart.defaults.font.family = FONT;
Chart.defaults.color = '#000';

// frame + inward ticks on all four sides, like the matplotlib panels
function makeFramePlugin(xTicks, yTicks) {
  return {
    id: 'panelFrame',
    afterDraw(chart) {
      const ctx = chart.ctx;
      const a = chart.chartArea;
      const sx = chart.scales.x, sy = chart.scales.y;
      const T = 6, W = 1.3;
      ctx.save();
      ctx.fillStyle = '#000';
      for (const v of xTicks) {
        const px = sx.getPixelForValue(v);
        ctx.fillRect(px - W / 2, a.bottom - T, W, T);
        ctx.fillRect(px - W / 2, a.top, W, T);
      }
      for (const v of yTicks) {
        const py = sy.getPixelForValue(v);
        ctx.fillRect(a.left, py - W / 2, T, W);
        ctx.fillRect(a.right - T, py - W / 2, T, W);
      }
      ctx.fillRect(a.left - W / 2, a.top - W / 2, a.right - a.left + W, W);
      ctx.fillRect(a.left - W / 2, a.bottom - W / 2, a.right - a.left + W, W);
      ctx.fillRect(a.left - W / 2, a.top - W / 2, W, a.bottom - a.top + W);
      ctx.fillRect(a.right - W / 2, a.top - W / 2, W, a.bottom - a.top + W);
      ctx.restore();
    }
  };
}

function toXY(points) {
  return points.map(([x, y]) => ({ x, y }));
}

function lineSet(points, color, dashed) {
  return {
    data: toXY(points),
    borderColor: color,
    borderWidth: 2.2,
    borderDash: dashed ? [6, 3] : [],
    pointRadius: 0,
    fill: false,
    cubicInterpolationMode: 'monotone'
  };
}

function areaSet(points, color) {
  return {
    data: toXY(points),
    borderColor: 'transparent',
    borderWidth: 0,
    backgroundColor: color,
    pointRadius: 0,
    fill: 'origin',
    cubicInterpolationMode: 'monotone'
  };
}

const figure = document.getElementById('figure');

function addPanel(block, g, r, c) {
  const row = block.rows[r];
  const isLeft = c === 0, isBottom = r === 5;
  const top = Math.round(TOP + r * ROW_H);
  const bottom = Math.round(TOP + (r + 1) * ROW_H);
  const left = GROUP_LEFT[g] + c * PANEL_W;
  const padL = MARGIN + (isLeft ? Y_AXIS_W : 0);
  const padB = MARGIN + (isBottom ? X_AXIS_H : 0);

  const canvas = document.createElement('canvas');
  canvas.width = PANEL_W + padL + MARGIN;
  canvas.height = bottom - top + MARGIN + padB;
  canvas.style.left = (left - padL) + 'px';
  canvas.style.top = (top - MARGIN) + 'px';
  figure.appendChild(canvas);

  const pal = COLORS[row.color];
  const [solid, dashed] = c === 0 ? row.xy : row.z;
  const yTicks = TICKS[row.kind];
  const digits = row.kind === 'fe' ? 2 : 1;

  new Chart(canvas, {
    type: 'line',
    data: {
      datasets: [
        lineSet(solid, pal.line, false),
        lineSet(dashed, pal.line, true),
        areaSet(row.fill, pal.fill)
      ]
    },
    options: {
      responsive: false,
      animation: false,
      devicePixelRatio: 1,
      events: [],
      layout: { padding: MARGIN },
      plugins: {
        legend: { display: false },
        tooltip: { enabled: false }
      },
      scales: {
        x: {
          type: 'linear',
          display: isBottom,
          min: block.xRange[0],
          max: block.xRange[1],
          grid: { display: false, drawTicks: false },
          border: { display: false },
          afterBuildTicks: s => { s.ticks = block.xTicks.map(v => ({ value: v })); },
          afterFit: s => { s.height = isBottom ? X_AXIS_H : 0; },
          ticks: {
            padding: 6,
            maxRotation: 0,
            font: { size: 16.7 },
            callback: v => (v < 0 ? '\u2212' + Math.abs(v) : String(v))
          }
        },
        y: {
          type: 'linear',
          display: isLeft,
          min: RANGE[row.kind][0],
          max: RANGE[row.kind][1],
          grid: { display: false, drawTicks: false },
          border: { display: false },
          afterBuildTicks: s => { s.ticks = yTicks.map(v => ({ value: v })); },
          afterFit: s => { s.width = isLeft ? Y_AXIS_W : 0; },
          ticks: {
            padding: 6,
            font: { size: 16.7 },
            callback: v => Number(v).toFixed(digits)
          }
        }
      }
    },
    plugins: [makeFramePlugin(block.xTicks, yTicks)]
  });

  if (isLeft) {
    const cy = top + 66;
    const dash = document.createElement('div');
    dash.className = 'dash';
    dash.style.left = (left + 15) + 'px';
    dash.style.top = (cy - 1.5) + 'px';
    dash.style.background = pal.line;
    figure.appendChild(dash);
    const lab = document.createElement('div');
    lab.className = 'txt legend';
    lab.style.left = (left + 34) + 'px';
    lab.style.top = (cy - 10) + 'px';
    lab.textContent = row.label;
    figure.appendChild(lab);
  }
}

blocks.forEach((block, g) => {
  for (let r = 0; r < 6; r++) {
    for (let c = 0; c < 2; c++) addPanel(block, g, r, c);
  }
});

// titles, axis labels
function addText(html, cls, css) {
  const d = document.createElement('div');
  d.className = 'txt ' + cls;
  d.innerHTML = html;
  Object.assign(d.style, css);
  figure.appendChild(d);
  return d;
}

GROUP_LEFT.forEach(gl => {
  columnTitles.forEach((t, c) => {
    addText(t, 'title', { left: (gl + c * PANEL_W) + 'px', top: '4px', width: PANEL_W + 'px' });
  });
  addText('Energy (meV)', 'title', { left: (gl + PANEL_W - 150) + 'px', top: '863px', width: '300px' });
});

addText('PDOS (meV<sup style="font-size:70%;vertical-align:0.55em;line-height:0">\u22121</sup>)', 'title', {
  left: (18 - 100) + 'px', top: (434 - 12) + 'px', width: '200px', transform: 'rotate(-90deg)'
});
</script>
</body>
</html>
